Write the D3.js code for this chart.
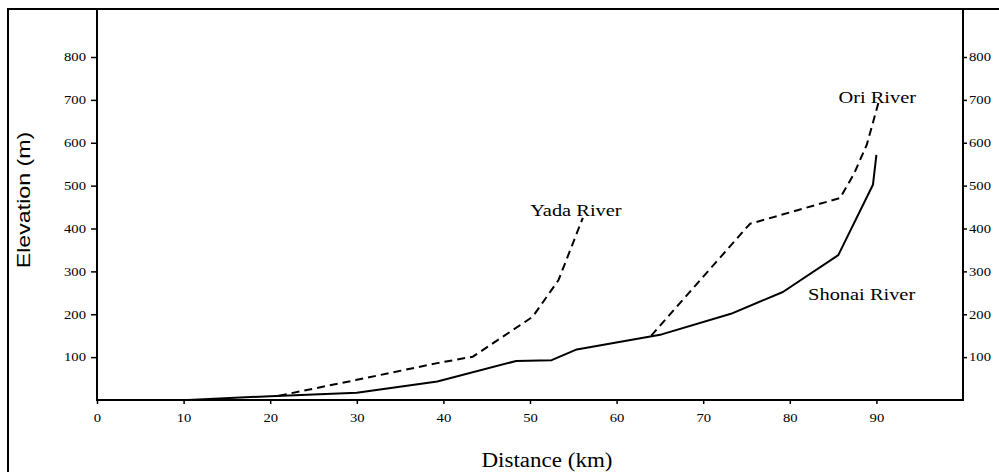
<!DOCTYPE html>
<html>
<head>
<meta charset="utf-8">
<script src="https://cdn.jsdelivr.net/npm/d3@7"></script>
<style>
  body { margin: 0; background: #fff; }
  svg { display: block; }
  .tick text { font-family: "Liberation Serif", "Times New Roman", serif; font-size: 12px; fill: #000; }
  .tick line { stroke: #000; stroke-width: 1.5; }
</style>
</head>
<body>
<div id="chart"></div>
<script>
// river profiles: distance (km) and elevation (m)
const shonaiKm = [10.5, 20, 30, 39.3, 48.4, 52.5, 55.4, 65.2, 73.2, 79.2, 85.6, 89.6, 90.0];
const shonaiElev = [0, 9, 17, 43, 91, 93, 118, 153, 201, 252, 338, 502, 572];

const yadaKm = [21, 30, 39.3, 43.4, 50.3, 53.3, 56.1];
const yadaElev = [10, 47, 86, 101, 194, 280, 425];

const oriKm = [64, 75.4, 85.8, 87.4, 88.9, 90.3];
const oriElev = [150, 411, 471, 527, 596, 698];

const xTicks = [0, 10, 20, 30, 40, 50, 60, 70, 80, 90];
const yTicks = [100, 200, 300, 400, 500, 600, 700, 800];

const riverLabels = [
  { name: 'Yada River', km: 55.3, elev: 430 },
  { name: 'Ori River', km: 90.1, elev: 692 },
  { name: 'Shonai River', km: 88.3, elev: 233 }
];

const width = 999;
const height = 472;
const plot = { left: 97, right: 963, top: 9, bottom: 400 };

const svg = d3.select('#chart')
  .append('svg')
  .attr('width', width)
  .attr('height', height);

// squeeze/stretch text horizontally to the widths seen in the picture
function stretch(sel, factor) {
  sel.each(function() {
    const w = this.getComputedTextLength();
    d3.select(this)
      .attr('textLength', w * factor)
      .attr('lengthAdjust', 'spacingAndGlyphs');
  });
}

const x = d3.scaleLinear().domain([0, 100]).range([plot.left, plot.right]);
const y = d3.scaleLinear().domain([0, 912]).range([plot.bottom, plot.top]);

// outer frame
svg.append('rect')
  .attr('x', 8).attr('y', 9)
  .attr('width', 1100).attr('height', 600)
  .attr('fill', 'none')
  .attr('stroke', '#000')
  .attr('stroke-width', 2);

// axes
const xAxis = svg.append('g')
  .attr('transform', `translate(0,${plot.bottom})`)
  .call(d3.axisBottom(x).tickValues(xTicks).tickSize(4).tickPadding(9).tickSizeOuter(0));

const yLeft = svg.append('g')
  .attr('transform', `translate(${plot.left},0)`)
  .call(d3.axisLeft(y).tickValues(yTicks).tickSize(6).tickPadding(5).tickSizeOuter(0));

const yRight = svg.append('g')
  .attr('transform', `translate(${plot.right},0)`)
  .call(d3.axisRight(y).tickValues(yTicks).tickSize(4).tickPadding(2).tickSizeOuter(0));

[xAxis, yLeft, yRight].forEach(g => {
  g.select('.domain').remove();
  stretch(g.selectAll('.tick text'), 1.22);
});

// plot box
svg.append('rect')
  .attr('x', plot.left).attr('y', plot.top)
  .attr('width', plot.right - plot.left)
  .attr('height', plot.bottom - plot.top)
  .attr('fill', 'none')
  .attr('stroke', '#000')
  .attr('stroke-width', 2);

const line = d3.line()
  .x(d => x(d[0]))
  .y(d => y(d[1]));

function drawRiver(km, elev, dashed) {
  svg.append('path')
    .datum(km.map((k, i) => [k, elev[i]]))
    .attr('d', line)
    .attr('fill', 'none')
    .attr('stroke', '#000')
    .attr('stroke-width', 2)
    .attr('stroke-linejoin', 'round')
    .attr('stroke-dasharray', dashed ? '8,5' : null);
}

drawRiver(shonaiKm, shonaiElev, false);
drawRiver(yadaKm, yadaElev, true);
drawRiver(oriKm, oriElev, true);

// river names
const names = svg.selectAll('.river-label')
  .data(riverLabels)
  .enter().append('text')
  .attr('class', 'river-label')
  .attr('x', d => x(d.km))
  .attr('y', d => y(d.elev))
  .attr('text-anchor', 'middle')
  .style('font-family', '"Liberation Serif", "Times New Roman", serif')
  .style('font-size', '17px')
  .text(d => d.name);
stretch(names, 1.2);

// axis titles
const xTitle = svg.append('text')
  .attr('x', 547)
  .attr('y', 467)
  .attr('text-anchor', 'middle')
  .style('font-family', '"Liberation Serif", "Times New Roman", serif')
  .style('font-size', '20px')
  .text('Distance (km)');
stretch(xTitle, 1.15);

const yTitle = svg.append('text')
  .attr('transform', 'translate(30,200) rotate(-90)')
  .attr('text-anchor', 'middle')
  .style('font-family', '"Liberation Sans", Arial, sans-serif')
  .style('font-size', '19px')
  .text('Elevation (m)');
stretch(yTitle, 1.22);
</script>
</body>
</html>
